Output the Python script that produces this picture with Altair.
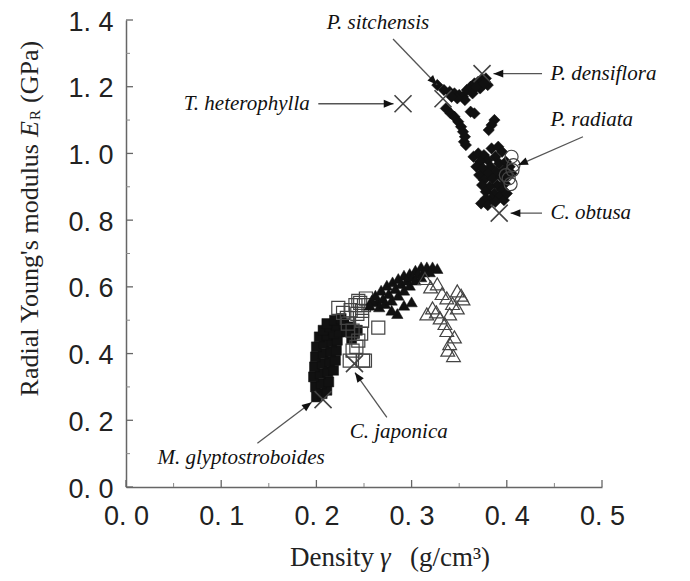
import math
import altair as alt
import pandas as pd

# ---------------- data ----------------
# filled diamonds (upper cluster)
dia_x = [0.327, 0.334, 0.340, 0.345, 0.350, 0.354, 0.358, 0.362, 0.366, 0.370, 0.374, 0.378, 0.380, 0.372,
         0.364, 0.356, 0.348, 0.342, 0.368, 0.376,
         0.336, 0.341, 0.345, 0.349, 0.352, 0.354, 0.356, 0.355, 0.357, 0.362, 0.366,
         0.387, 0.384, 0.381,
         0.365, 0.370, 0.376, 0.384, 0.391, 0.395, 0.388, 0.380, 0.372, 0.368, 0.375, 0.383, 0.392, 0.399,
         0.403, 0.397, 0.389, 0.380, 0.371, 0.376, 0.385, 0.394, 0.401, 0.405, 0.398, 0.390, 0.382, 0.374,
         0.378, 0.387, 0.395, 0.392, 0.384, 0.378, 0.373, 0.380, 0.388, 0.397, 0.400]
dia_y = [1.205, 1.190, 1.185, 1.180, 1.175, 1.170, 1.190, 1.200, 1.210, 1.215, 1.220, 1.225, 1.205, 1.195,
         1.180, 1.160, 1.165, 1.170, 1.200, 1.210,
         1.135, 1.120, 1.110, 1.095, 1.080, 1.065, 1.050, 1.035, 1.025, 1.125, 1.120,
         1.100, 1.085, 1.070,
         0.990, 1.000, 0.995, 1.015, 1.020, 1.005, 0.990, 0.980, 0.975, 0.960, 0.955, 0.960, 0.970, 0.975,
         0.960, 0.950, 0.945, 0.940, 0.935, 0.920, 0.925, 0.930, 0.935, 0.940, 0.910, 0.905, 0.900, 0.905,
         0.885, 0.880, 0.890, 0.870, 0.865, 0.865, 0.850, 0.845, 0.855, 0.860, 0.880]

# open circles (P. radiata)
cir_x = [0.405, 0.407, 0.406, 0.402, 0.404, 0.399]
cir_y = [0.990, 0.965, 0.950, 0.925, 0.908, 0.935]

# filled triangles
tri_x = [0.262, 0.268, 0.274, 0.280, 0.286, 0.292, 0.298, 0.304, 0.310, 0.316, 0.322, 0.327,
         0.264, 0.270, 0.276, 0.283, 0.289, 0.295, 0.301, 0.307, 0.313, 0.319,
         0.266, 0.272, 0.279, 0.286, 0.292, 0.298, 0.304, 0.310, 0.285, 0.279, 0.300, 0.292, 0.258, 0.256]
tri_y = [0.575, 0.590, 0.605, 0.615, 0.625, 0.635, 0.640, 0.650, 0.660, 0.660, 0.660, 0.655,
         0.555, 0.565, 0.580, 0.595, 0.610, 0.620, 0.630, 0.640, 0.645, 0.645,
         0.540, 0.550, 0.560, 0.575, 0.590, 0.605, 0.620, 0.630, 0.520, 0.530, 0.555, 0.545, 0.560, 0.545]

# open triangles
otr_x = [0.327, 0.337, 0.348, 0.354, 0.316, 0.330, 0.340, 0.337, 0.340, 0.344, 0.322, 0.348, 0.332,
         0.343, 0.320, 0.335, 0.345, 0.326, 0.352, 0.314, 0.338]
otr_y = [0.609, 0.567, 0.588, 0.564, 0.519, 0.507, 0.519, 0.469, 0.430, 0.394, 0.537, 0.537, 0.580,
         0.550, 0.600, 0.490, 0.450, 0.525, 0.575, 0.625, 0.410]

# open squares
osq_x = [0.223, 0.228, 0.244, 0.243, 0.248, 0.238, 0.235, 0.251, 0.265, 0.246, 0.248, 0.232, 0.238,
         0.244, 0.249, 0.241, 0.236, 0.247, 0.242, 0.250, 0.233, 0.252]
osq_y = [0.537, 0.522, 0.558, 0.519, 0.498, 0.409, 0.379, 0.379, 0.478, 0.552, 0.528, 0.507, 0.469,
         0.439, 0.379, 0.545, 0.530, 0.460, 0.420, 0.545, 0.490, 0.565]

# filled squares (lower-left dense band)
fsq_x = [0.200, 0.206, 0.211, 0.199, 0.205, 0.213, 0.197, 0.204, 0.212, 0.218, 0.198, 0.206, 0.214,
         0.220, 0.199, 0.207, 0.215, 0.221, 0.200, 0.208, 0.216, 0.222, 0.203, 0.211, 0.218, 0.224,
         0.207, 0.214, 0.221, 0.211, 0.219, 0.226, 0.229, 0.236, 0.240, 0.237, 0.243, 0.232]
fsq_y = [0.270, 0.280, 0.290, 0.300, 0.310, 0.315, 0.330, 0.340, 0.345, 0.350, 0.360, 0.370, 0.375,
         0.380, 0.390, 0.400, 0.405, 0.410, 0.420, 0.430, 0.435, 0.440, 0.450, 0.455, 0.460, 0.465,
         0.470, 0.480, 0.485, 0.490, 0.500, 0.505, 0.490, 0.480, 0.460, 0.445, 0.470, 0.465]

# species means (crosses)
crs_x = [0.291, 0.333, 0.374, 0.392, 0.240, 0.207]
crs_y = [1.149, 1.164, 1.239, 0.821, 0.370, 0.262]

# annotations
lab_text = ["P. sitchensis", "P. densiflora", "P. radiata", "C. obtusa", "C. japonica", "M. glyptostroboides"]
lab_x = [0.211, 0.446, 0.446, 0.446, 0.235, 0.033]
lab_y = [1.391, 1.239, 1.100, 0.821, 0.164, 0.087]
labr_text = ["T. heterophylla"]
labr_x = [0.193]
labr_y = [1.149]

arr_x1 = [0.202, 0.2805, 0.437, 0.480, 0.437, 0.274, 0.138]
arr_y1 = [1.149, 1.343, 1.239, 1.050, 0.821, 0.209, 0.131]
arr_x2 = [0.281, 0.3267, 0.386, 0.412, 0.404, 0.2405, 0.195]
arr_y2 = [1.149, 1.206, 1.239, 0.965, 0.821, 0.343, 0.254]

x_major = [0.0, 0.1, 0.2, 0.3, 0.4, 0.5]
x_minor = [0.05, 0.15, 0.25, 0.35, 0.45]
y_major = [0.0, 0.2, 0.4, 0.6, 0.8, 1.0, 1.2, 1.4]
y_minor = [0.1, 0.3, 0.5, 0.7, 0.9, 1.1, 1.3]

# ---------------- layout ----------------
W, H = 476, 467
PX_X = W / 0.5
PX_Y = H / 1.4

xs = alt.Scale(domain=[0, 0.5], nice=False, zero=False)
ys = alt.Scale(domain=[0, 1.4], nice=False, zero=False)
lab_expr = "replace(format(datum.value, '.1f'), '.', '. ')"
xaxis = alt.Axis(values=x_major, labelExpr=lab_expr, ticks=False, tickSize=0, grid=False, title=None,
                 domainColor="#666", domainWidth=1.5, labelFont="Liberation Sans", labelFontSize=27,
                 labelColor="#222", labelPadding=16, labelFlush=False, labelOverlap=False)
yaxis = alt.Axis(values=y_major, labelExpr=lab_expr, ticks=False, tickSize=0, grid=False, title=None,
                 domainColor="#666", domainWidth=1.5, labelFont="Liberation Sans", labelFontSize=27,
                 labelColor="#222", labelPadding=13, labelOffset=2, labelFlush=False, labelOverlap=False)


def X(f):
    return alt.X(f"{f}:Q", scale=xs, axis=xaxis)


def Y(f):
    return alt.Y(f"{f}:Q", scale=ys, axis=yaxis)


def pts(xv, yv, shape, size, filled, color, sw=1.2):
    df = pd.DataFrame({"x": xv, "y": yv})
    if filled:
        m = alt.Chart(df).mark_point(shape=shape, size=size, filled=True, color=color, opacity=1,
                                     strokeWidth=0.5, stroke=color)
    else:
        m = alt.Chart(df).mark_point(shape=shape, size=size, filled=False, color=color, opacity=1,
                                     strokeWidth=sw)
    return m.encode(x=X("x"), y=Y("y"))


layers = []
layers.append(pts(fsq_x, fsq_y, "square", 100, True, "#111"))
layers.append(pts(osq_x, osq_y, "square", 170, False, "#444"))
layers.append(pts(tri_x, tri_y, "triangle-up", 130, True, "#111"))
layers.append(pts(otr_x, otr_y, "triangle-up", 190, False, "#444"))
layers.append(pts(dia_x, dia_y, "diamond", 130, True, "#111"))
layers.append(pts(cir_x, cir_y, "circle", 170, False, "#444"))
layers.append(pts(crs_x, crs_y, "M-1,-1L1,1M-1,1L1,-1", 290, False, "#444", 1.6))

# inward ticks
layers.append(alt.Chart(pd.DataFrame({"v": y_major})).mark_rule(color="#666", strokeWidth=1.3)
              .encode(y=Y("v"), x=alt.value(0), x2=alt.value(7)))
layers.append(alt.Chart(pd.DataFrame({"v": y_minor})).mark_rule(color="#888", strokeWidth=1)
              .encode(y=Y("v"), x=alt.value(0), x2=alt.value(4)))
layers.append(alt.Chart(pd.DataFrame({"v": x_major})).mark_rule(color="#666", strokeWidth=1.3)
              .encode(x=X("v"), y=alt.value(H), y2=alt.value(H - 7)))
layers.append(alt.Chart(pd.DataFrame({"v": x_minor})).mark_rule(color="#888", strokeWidth=1)
              .encode(x=X("v"), y=alt.value(H), y2=alt.value(H - 4)))

# arrows
arr = pd.DataFrame({"x1": arr_x1, "y1": arr_y1, "x2": arr_x2, "y2": arr_y2})
arr["ang"] = [
    math.degrees(math.atan2((b - a) * PX_X, (d - c) * PX_Y)) % 360
    for a, b, c, d in zip(arr_x1, arr_x2, arr_y1, arr_y2)
]
layers.append(alt.Chart(arr).mark_rule(color="#555", strokeWidth=1.3)
              .encode(x=X("x1"), y=Y("y1"), x2="x2:Q", y2="y2:Q"))
layers.append(alt.Chart(arr).mark_point(shape="M0,0L0.4,1L-0.4,1Z", size=380, filled=True,
                                        color="#111", opacity=1)
              .encode(x=X("x2"), y=Y("y2"), angle=alt.Angle("ang:Q", scale=None)))

# labels
layers.append(alt.Chart(pd.DataFrame({"x": lab_x, "y": lab_y, "t": lab_text}))
              .mark_text(align="left", baseline="middle", font="Liberation Serif", fontStyle="italic",
                         fontSize=21, color="#111")
              .encode(x=X("x"), y=Y("y"), text="t:N"))
layers.append(alt.Chart(pd.DataFrame({"x": labr_x, "y": labr_y, "t": labr_text}))
              .mark_text(align="right", baseline="middle", font="Liberation Serif", fontStyle="italic",
                         fontSize=21, color="#111")
              .encode(x=X("x"), y=Y("y"), text="t:N"))

# y axis title (rotated, with italic E and subscript R)
ytx, yty = -96, 101


def ytitle(t, align, dx, dy=0, size=26, style="normal"):
    return (alt.Chart(pd.DataFrame({"t": [t]}))
            .mark_text(angle=270, align=align, baseline="middle", dx=dx, dy=dy, font="Liberation Serif",
                       fontSize=size, fontStyle=style, color="#222")
            .encode(x=alt.value(ytx), y=alt.value(yty), text="t:N"))


layers.append(ytitle("Radial Young's modulus", "right", -23))
layers.append(ytitle("E", "right", 0, style="italic"))
layers.append(ytitle("R", "left", 1, dy=5, size=15))
layers.append(ytitle("(GPa)", "left", 18))

# x axis title
xtx, xty = 380 - 126, 546


def xtitle(t, align, dx, style="normal"):
    return (alt.Chart(pd.DataFrame({"t": [t]}))
            .mark_text(align=align, baseline="alphabetic", dx=dx, font="Liberation Serif",
                       fontSize=27, fontStyle=style, color="#222")
            .encode(x=alt.value(xtx), y=alt.value(xty), text="t:N"))


layers.append(xtitle("Density", "right", -6))
layers.append(xtitle("γ", "left", 0, style="italic"))
layers.append(xtitle("(g/cm³)", "left", 30))

chart = (alt.layer(*layers)
         .properties(width=W, height=H, autosize=alt.AutoSizeParams(type="none"),
                     padding={"left": 118, "top": 12, "right": 80, "bottom": 86},
                     background="white")
         .configure_view(strokeWidth=0))

chart.save("out.html", embed_options={"renderer": "svg", "actions": False})
